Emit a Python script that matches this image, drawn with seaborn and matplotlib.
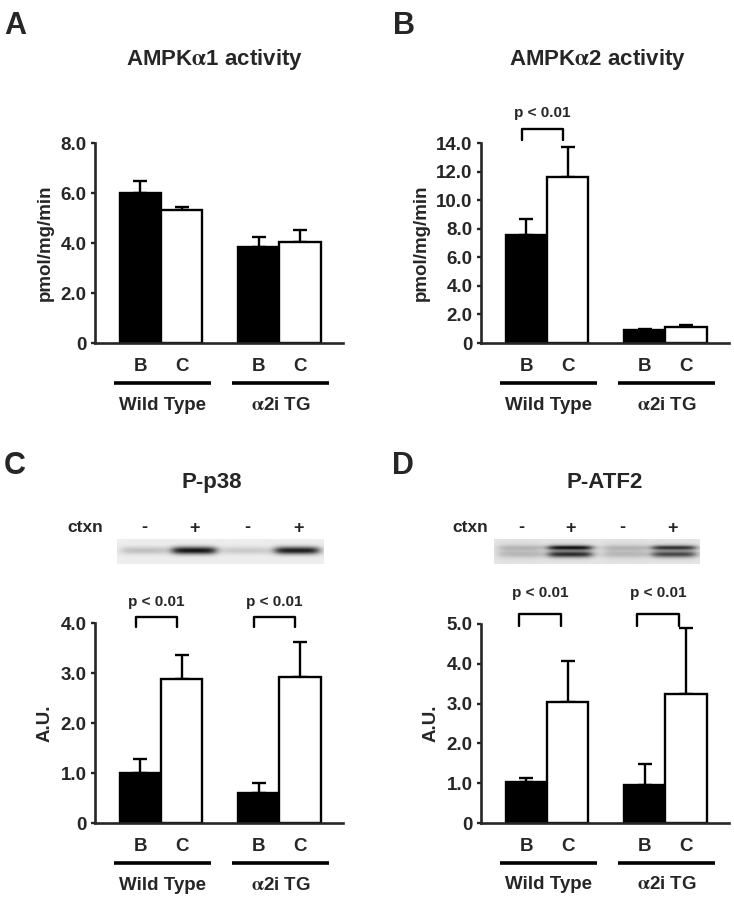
import numpy as np
import pandas as pd
import matplotlib
matplotlib.use('Agg')
import matplotlib.pyplot as plt
import matplotlib.transforms as mtransforms
import seaborn as sns

# ---------------- data ----------------
groups = ['Wild Type', r'$\mathrm{\alpha}$2i TG']
conditions = ['B', 'C']

a1_mean = [6.00, 5.32, 3.85, 4.05]      # WT-B, WT-C, TG-B, TG-C
a1_sem = [0.49, 0.14, 0.40, 0.47]
a2_mean = [7.56, 11.59, 0.89, 1.12]
a2_sem = [1.10, 2.11, 0.11, 0.17]
p38_mean = [1.00, 2.88, 0.60, 2.93]
p38_sem = [0.28, 0.48, 0.20, 0.70]
atf2_mean = [1.02, 3.03, 0.96, 3.24]
atf2_sem = [0.11, 1.03, 0.52, 1.65]

ctxn_signs = ['-', '+', '-', '+']
blot_p38_intensity = [0.18, 0.85, 0.14, 0.82]
blot_atf2_intensity = [0.10, 0.75, 0.10, 0.62]

# ---------------- style ----------------
sns.set_style('ticks')
plt.rcParams['font.family'] = ['Liberation Sans', 'DejaVu Sans']
plt.rcParams['font.weight'] = 'bold'
plt.rcParams['axes.labelweight'] = 'bold'
plt.rcParams['mathtext.fontset'] = 'stix'

W, H = 734, 900
fig = plt.figure(figsize=(W / 100, H / 100), dpi=100)
fig.patch.set_facecolor('white')

FS_TICK = 13.5


def fmt(v):
    return '0' if v == 0 else f'{v:.1f}'


def panel(rect, means, sems, ymax, ystep, ylabel, brackets, boff):
    l, r, t, b = rect
    ax = fig.add_axes([l / W, 1 - b / H, (r - l) / W, (b - t) / H])
    df = pd.DataFrame({'group': np.repeat(groups, 2),
                       'cond': conditions * 2,
                       'value': means})
    sns.barplot(data=df, x='group', y='value', hue='cond', order=groups,
                hue_order=conditions, palette={'B': 'black', 'C': 'white'},
                edgecolor='black', linewidth=1.7, width=0.7, saturation=1,
                errorbar=None, legend=False, ax=ax)
    centers = {}
    for c, cont in zip(conditions, ax.containers):
        for g, bar in zip(groups, cont):
            centers[(g, c)] = bar.get_x() + bar.get_width() / 2
    xs = [centers[(g, c)] for g, c in zip(df['group'], df['cond'])]
    ax.errorbar(xs, means, yerr=[np.zeros(len(sems)), sems], fmt='none',
                ecolor='black', elinewidth=1.7, capsize=5, capthick=1.7,
                zorder=0.5)
    ax.set_xlim(-0.56, 1.54)
    ax.set_ylim(0, ymax)
    yt = np.arange(0, ymax + 1e-6, ystep)
    ax.set_yticks(yt)
    ax.set_yticklabels([fmt(v) for v in yt])
    ax.set_xticks(xs)
    ax.set_xticklabels(list(df['cond']))
    ax.tick_params(axis='y', direction='out', length=3, width=1.7,
                   labelsize=FS_TICK, pad=3)
    ax.tick_params(axis='x', length=0, labelsize=FS_TICK, pad=11)
    for lab in ax.get_xticklabels() + ax.get_yticklabels():
        lab.set_fontweight('bold')
    ax.set_xlabel('')
    ax.set_ylabel(ylabel, fontsize=13.5, fontweight='bold', labelpad=5)
    sns.despine(ax=ax)
    for s in ['left', 'bottom']:
        ax.spines[s].set_linewidth(1.9)
    trans = mtransforms.blended_transform_factory(ax.transData, ax.transAxes)
    for gi, g in enumerate(groups):
        ax.plot([gi - 0.40, gi + 0.42], [-0.20, -0.20], transform=trans,
                color='black', lw=2.6, clip_on=False, solid_capstyle='butt')
        ax.text(gi + 0.01, -0.31, g, transform=trans, ha='center',
                va='center', fontsize=FS_TICK, fontweight='bold')
    for g, ytop, yleg, ytxt in brackets:
        x0 = centers[(g, 'B')] + boff
        x1 = centers[(g, 'C')] + boff
        ax.plot([x0, x0, x1, x1], [yleg, ytop, ytop, yleg], transform=trans,
                color='black', lw=1.7, clip_on=False)
        ax.text((x0 + x1) / 2, ytxt, 'p < 0.01', transform=trans,
                ha='center', va='center', fontsize=11, fontweight='bold')
    return ax


def blot(rect, lane_c, intens, doublet, bg):
    l, r, t, b = rect
    ax = fig.add_axes([l / W, 1 - b / H, (r - l) / W, (b - t) / H])
    nx, ny = 400, 60
    x = np.linspace(0, 1, nx)[None, :]
    y = np.linspace(0, 1, ny)[:, None]
    img = np.full((ny, nx), bg)
    hw = 0.105
    for c, k in zip(lane_c, intens):
        hprof = 1 / (1 + np.exp(-(hw - np.abs(x - c)) / 0.015))
        if doublet:
            vprof = (np.exp(-((y - 0.37) / 0.09) ** 2) * 1.0 +
                     np.exp(-((y - 0.63) / 0.12) ** 2) * 0.85)
            vprof = np.clip(vprof, 0, 1)
            haze = np.exp(-((y - 0.5) / 0.3) ** 2) * 0.12
            img = img - (k * vprof + haze) * hprof
        else:
            vprof = np.exp(-((y - 0.48) / 0.15) ** 2)
            img = img - k * vprof * hprof
    ax.imshow(np.clip(img, 0, 1), cmap='gray', vmin=0, vmax=1,
              aspect='auto', extent=[0, 1, 1, 0], interpolation='bilinear')
    ax.set_axis_off()


# ---------------- panels ----------------
panel((95, 343, 143, 343), a1_mean, a1_sem, 8.0, 2.0, 'pmol/mg/min', [], 0)
panel((481, 729, 143, 343), a2_mean, a2_sem, 14.0, 2.0, 'pmol/mg/min',
      [(groups[0], 1.07, 1.015, 1.15)], -0.04)
panel((95, 343, 623, 823), p38_mean, p38_sem, 4.0, 1.0, 'A.U.',
      [(groups[0], 1.03, 0.98, 1.105), (groups[1], 1.03, 0.98, 1.105)], -0.04)
panel((481, 729, 624, 823), atf2_mean, atf2_sem, 5.0, 1.0, 'A.U.',
      [(groups[0], 1.05, 0.99, 1.155), (groups[1], 1.05, 0.99, 1.155)], -0.06)

blot((117, 324, 539, 564), [0.126, 0.372, 0.623, 0.870],
     blot_p38_intensity, False, 0.93)
blot((494, 700, 539, 564), [0.126, 0.369, 0.636, 0.874],
     blot_atf2_intensity, True, 0.90)


def ftext(x, y, s, **kw):
    fig.text(x / W, 1 - y / H, s, **kw)


# ctxn labels
ftext(85, 528, 'ctxn', ha='center', va='center', fontsize=12.5, fontweight='bold')
for xx, s in zip([144, 195, 247, 298], ctxn_signs):
    ftext(xx, 528, s, ha='center', va='center', fontsize=13, fontweight='bold')
ftext(470, 528, 'ctxn', ha='center', va='center', fontsize=12.5, fontweight='bold')
for xx, s in zip([521, 570, 622, 673], ctxn_signs):
    ftext(xx, 528, s, ha='center', va='center', fontsize=13, fontweight='bold')

# titles
ftext(214, 60, r'AMPK$\mathrm{\alpha}$1 activity', ha='center', va='center',
      fontsize=16, fontweight='bold')
ftext(597, 60, r'AMPK$\mathrm{\alpha}$2 activity', ha='center', va='center',
      fontsize=16, fontweight='bold')
ftext(212, 483, 'P-p38', ha='center', va='center', fontsize=16,
      fontweight='bold')
ftext(605, 483, 'P-ATF2', ha='center', va='center', fontsize=16,
      fontweight='bold')

# panel letters
for x0, y0, s in [(4, 26, 'A'), (393, 26, 'B'), (4, 466, 'C'), (392, 466, 'D')]:
    ftext(x0, y0, s, ha='left', va='center', fontsize=22, fontweight='bold')

fig.savefig('out.png', dpi=100, facecolor='white')
